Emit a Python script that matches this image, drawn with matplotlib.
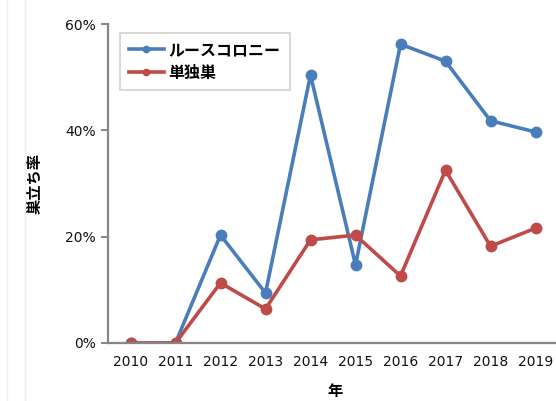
import matplotlib
matplotlib.use('Agg')
import matplotlib.pyplot as plt
from matplotlib import ticker
from matplotlib.lines import Line2D

plt.rcParams['font.family'] = ['Noto Sans CJK JP', 'DejaVu Sans']

years = ['2010', '2011', '2012', '2013', '2014', '2015', '2016', '2017', '2018', '2019']
loose_colony = [0.0, 0.0, 20.3, 9.4, 50.4, 14.7, 56.2, 53.0, 41.8, 39.7]
solitary_nest = [0.0, 0.0, 11.3, 6.4, 19.4, 20.3, 12.6, 32.5, 18.2, 21.6]

W, H = 556, 401
fig = plt.figure(figsize=(W / 100, H / 100), dpi=100)
ax = fig.add_axes([108 / W, (H - 343) / H, 450 / W, (343 - 24) / H])

x = range(len(years))
ax.plot(x, loose_colony, color='#4a7ebb', lw=2.6, marker='o', ms=7.5,
        label='ルースコロニー', zorder=3)
ax.plot(x, solitary_nest, color='#be4b48', lw=2.6, marker='o', ms=7.5,
        label='単独巣', zorder=4)

ax.set_xlim(-0.5, 9.5)
ax.set_ylim(0, 60)
ax.set_xticks(list(x))
ax.set_xticklabels(years)
ax.set_yticks([0, 20, 40, 60])
ax.yaxis.set_major_formatter(ticker.FuncFormatter(lambda v, p: f'{v:.0f}%'))

for s in ['top', 'right']:
    ax.spines[s].set_visible(False)
for s in ['left', 'bottom']:
    ax.spines[s].set_color('#868686')
    ax.spines[s].set_linewidth(1.6)
ax.spines['left'].set_zorder(5)
ax.spines['bottom'].set_zorder(5)

ax.tick_params(axis='y', length=5, width=1.4, color='#868686', pad=4,
               labelsize=10, labelcolor='#111111')
ax.tick_params(axis='x', length=0, pad=9, labelsize=10, labelcolor='#111111')
for lab in ax.get_xticklabels() + ax.get_yticklabels():
    lab.set_family(['DejaVu Sans'])

ax.set_ylabel('巣立ち率', fontsize=11, fontweight='bold')
ax.yaxis.set_label_coords(-(108 - 42) / 450, (343 - 183) / 319)
ax.set_xlabel('年', fontsize=11, fontweight='bold')
ax.xaxis.set_label_coords((335 - 108) / 450, -(383 - 343) / 319)

handles = [Line2D([], [], color='#4a7ebb', lw=2.6, marker='o', ms=4.5),
           Line2D([], [], color='#be4b48', lw=2.6, marker='o', ms=4.5)]
leg = ax.legend(handles, ['ルースコロニー', '単独巣'], loc='upper left',
                bbox_to_anchor=((120 - 108) / 450, (343 - 33) / 319),
                frameon=True, fancybox=False, edgecolor='#d0d0d0',
                handlelength=2.2, handletextpad=0.3, borderpad=0.55,
                labelspacing=0.45, borderaxespad=0,
                prop={'weight': 'bold', 'size': 11.5})
leg.get_frame().set_linewidth(1.5)

# faint page edges on the left
fig.add_artist(Line2D([7 / W, 7 / W], [0, 1], color='#eeeeee', lw=1))
fig.add_artist(Line2D([25 / W, 25 / W], [0, 1], color='#eeeeee', lw=1))

fig.savefig('out.png', dpi=100)
